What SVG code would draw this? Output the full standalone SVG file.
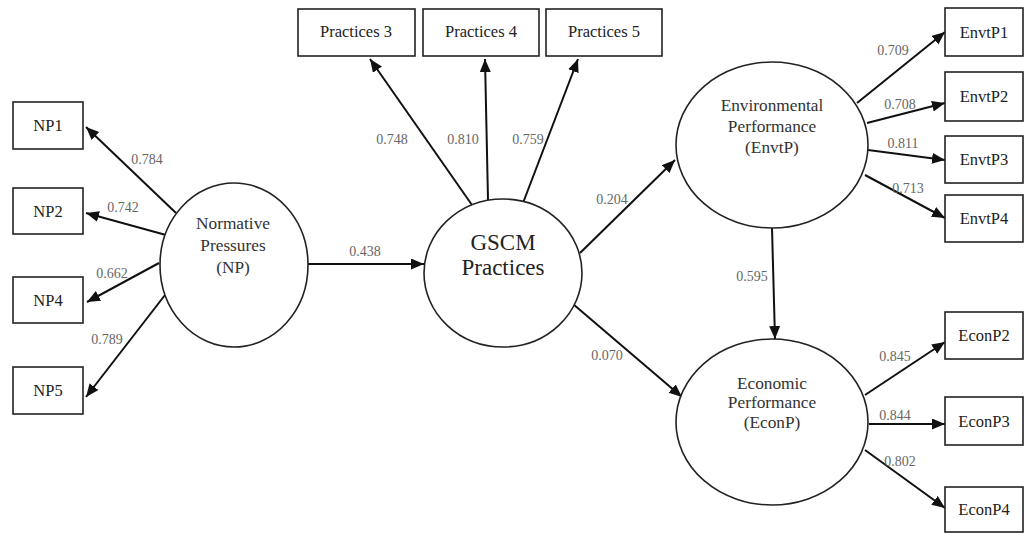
<svg xmlns="http://www.w3.org/2000/svg" width="1027" height="534" viewBox="0 0 1027 534" font-family="'Liberation Serif', 'Times New Roman', Times, 'DejaVu Serif', serif">
<style>
text{font-family:'Liberation Serif','Times New Roman',Times,'DejaVu Serif',serif}
.box{fill:#fff;stroke:#222;stroke-width:1.6}
.lat{fill:#fff;stroke:#222;stroke-width:1.6}
.bt{font-size:16.5px;fill:#222;text-anchor:middle;dominant-baseline:central}
.lt{font-size:17.3px;fill:#333;text-anchor:middle;dominant-baseline:central}
.gt{font-size:23px;fill:#222;text-anchor:middle;dominant-baseline:central}
.num{font-size:14px;fill:#666;text-anchor:middle;dominant-baseline:central}
.c line{stroke:#111;stroke-width:2;marker-end:url(#ah)}
</style>
<defs>
<marker id="ah" markerUnits="userSpaceOnUse" markerWidth="14" markerHeight="12" refX="13" refY="5.5" orient="auto">
<path d="M0,0 L13,5.5 L0,11 z" fill="#111"/>
</marker>
</defs>
<rect width="1027" height="534" fill="#fff"/>
<g class="c" id="connectors">
<line x1="176" y1="213" x2="86" y2="127"/>
<line x1="166" y1="235" x2="86" y2="213"/>
<line x1="159" y1="263" x2="87" y2="302"/>
<line x1="165" y1="295" x2="86" y2="397"/>
<line x1="308" y1="264" x2="424" y2="264"/>
<line x1="472" y1="205" x2="370" y2="59"/>
<line x1="488" y1="200" x2="485" y2="59"/>
<line x1="523" y1="203" x2="578" y2="59"/>
<line x1="580" y1="253" x2="675" y2="160"/>
<line x1="573" y1="304" x2="682" y2="397"/>
<line x1="772" y1="228" x2="775" y2="339"/>
<line x1="857" y1="103" x2="945" y2="32"/>
<line x1="867" y1="123" x2="945" y2="103"/>
<line x1="868" y1="150" x2="945" y2="160"/>
<line x1="865" y1="175" x2="945" y2="218"/>
<line x1="865" y1="395" x2="945" y2="342"/>
<line x1="869" y1="424" x2="945" y2="424"/>
<line x1="865" y1="450" x2="945" y2="508"/>
</g>
<g id="labels">
<text class="num" x="147" y="159">0.784</text>
<text class="num" x="123" y="207">0.742</text>
<text class="num" x="112" y="273">0.662</text>
<text class="num" x="107" y="339">0.789</text>
<text class="num" x="365" y="251">0.438</text>
<text class="num" x="392" y="139">0.748</text>
<text class="num" x="463" y="139">0.810</text>
<text class="num" x="528" y="139">0.759</text>
<text class="num" x="612" y="199">0.204</text>
<text class="num" x="607" y="355">0.070</text>
<text class="num" x="752" y="276">0.595</text>
<text class="num" x="893" y="50">0.709</text>
<text class="num" x="900" y="104">0.708</text>
<text class="num" x="903" y="143">0.811</text>
<text class="num" x="908" y="188">0.713</text>
<text class="num" x="895" y="356">0.845</text>
<text class="num" x="895" y="415">0.844</text>
<text class="num" x="900" y="461">0.802</text>
</g>
<g id="NP1"><rect class="box" x="13" y="102" width="70" height="47"/><text class="bt" x="48" y="125">NP1</text></g>
<g id="NP2"><rect class="box" x="13" y="188" width="70" height="46"/><text class="bt" x="48" y="211">NP2</text></g>
<g id="NP4"><rect class="box" x="13" y="277" width="70" height="46"/><text class="bt" x="48" y="300">NP4</text></g>
<g id="NP5"><rect class="box" x="13" y="367" width="70" height="47"/><text class="bt" x="48" y="390">NP5</text></g>
<g id="NP"><ellipse class="lat" cx="234" cy="265" rx="74" ry="82"/>
<text class="lt" x="233" y="223">Normative</text><text class="lt" x="233" y="245">Pressures</text><text class="lt" x="233" y="267">(NP)</text></g>
<g id="P3"><rect class="box" x="298" y="9" width="117" height="47"/><text class="bt" x="356" y="31">Practices 3</text></g>
<g id="P4"><rect class="box" x="423" y="9" width="116" height="47"/><text class="bt" x="481" y="31">Practices 4</text></g>
<g id="P5"><rect class="box" x="546" y="9" width="116" height="47"/><text class="bt" x="604" y="31">Practices 5</text></g>
<g id="GSCM"><ellipse class="lat" cx="503" cy="273" rx="79" ry="74"/>
<text class="gt" x="503" y="242">GSCM</text><text class="gt" x="503" y="267">Practices</text></g>
<g id="EnvtP"><ellipse class="lat" cx="772" cy="145" rx="96" ry="83"/>
<text class="lt" x="772" y="105">Environmental</text><text class="lt" x="772" y="126">Performance</text><text class="lt" x="772" y="147">(EnvtP)</text></g>
<g id="EconP"><ellipse class="lat" cx="772" cy="422" rx="96" ry="83"/>
<text class="lt" x="772" y="383">Economic</text><text class="lt" x="772" y="402">Performance</text><text class="lt" x="772" y="422">(EconP)</text></g>
<g id="EnvtP1"><rect class="box" x="945" y="8" width="78" height="48"/><text class="bt" x="984" y="32">EnvtP1</text></g>
<g id="EnvtP2"><rect class="box" x="945" y="72" width="78" height="49"/><text class="bt" x="984" y="96">EnvtP2</text></g>
<g id="EnvtP3"><rect class="box" x="945" y="136" width="78" height="47"/><text class="bt" x="984" y="159">EnvtP3</text></g>
<g id="EnvtP4"><rect class="box" x="945" y="195" width="78" height="47"/><text class="bt" x="984" y="218">EnvtP4</text></g>
<g id="EconP2"><rect class="box" x="945" y="312" width="78" height="47"/><text class="bt" x="984" y="335">EconP2</text></g>
<g id="EconP3"><rect class="box" x="945" y="397" width="78" height="48"/><text class="bt" x="984" y="421">EconP3</text></g>
<g id="EconP4"><rect class="box" x="945" y="487" width="78" height="45"/><text class="bt" x="984" y="509">EconP4</text></g>
</svg>
